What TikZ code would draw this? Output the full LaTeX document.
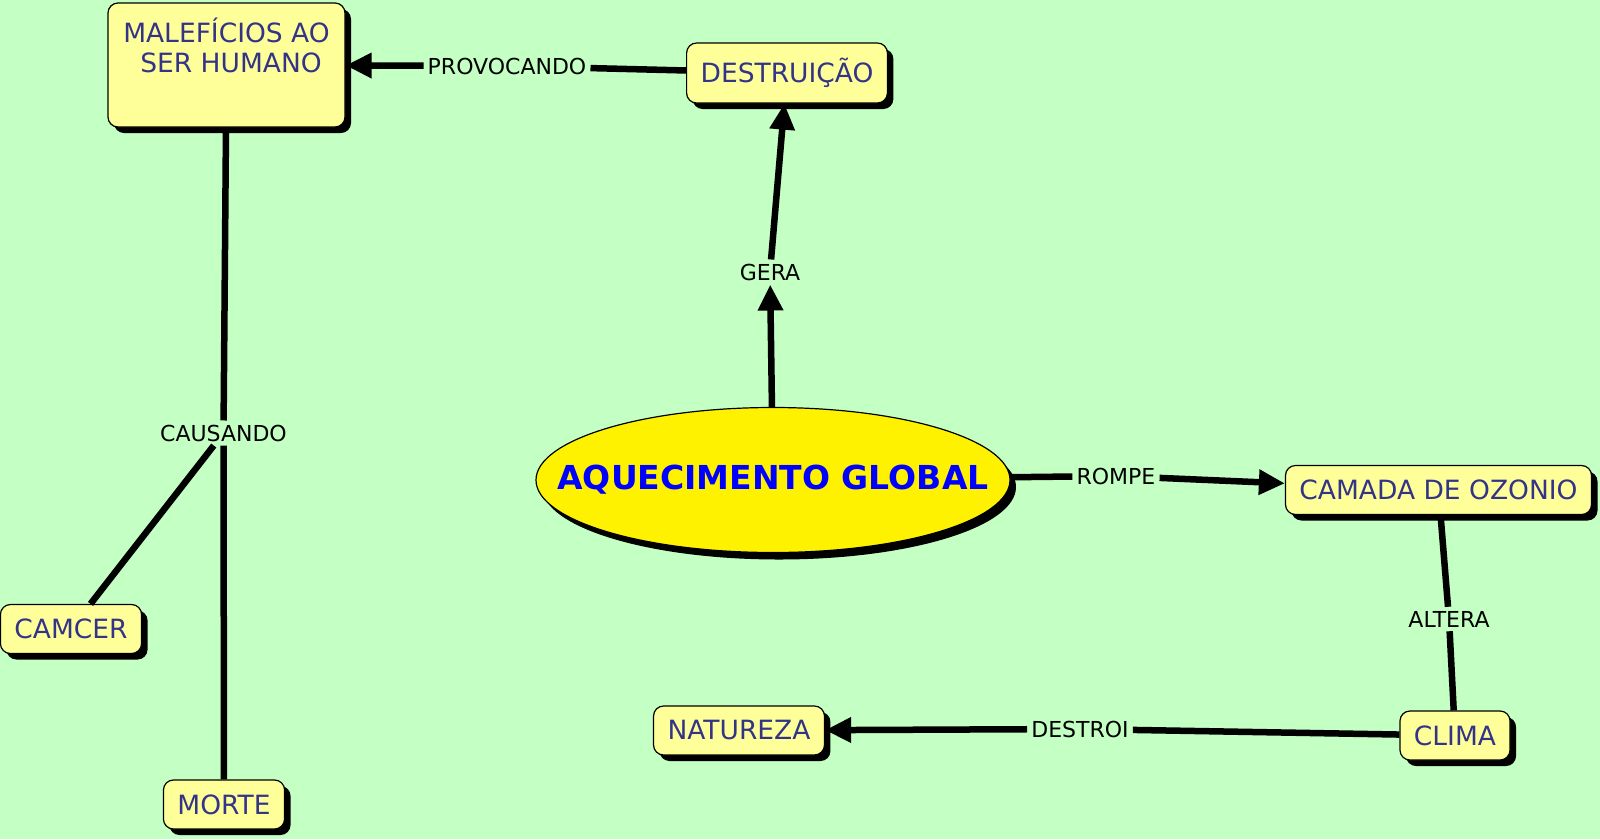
\documentclass[tikz,border=0pt]{standalone}
\usepackage{fontspec}
\setmainfont{DejaVu Sans}
\usetikzlibrary{shapes.geometric,shadows,arrows.meta}
\definecolor{mapbg}{RGB}{196,255,196}
\definecolor{conceptfill}{RGB}{255,255,153}
\definecolor{concepttext}{RGB}{51,51,136}

\begin{document}
\begin{tikzpicture}[x=1pt,y=-1pt]
	\tikzset{
	  concept/.style={draw=black,line width=1.2pt,fill=conceptfill,rounded corners=10pt,
		text=concepttext,font=\fontsize{26.5}{30}\selectfont,align=center,
		inner xsep=14pt,inner ysep=4pt,minimum height=49pt,
		drop shadow={shadow xshift=6pt,shadow yshift=-6pt,fill=black,opacity=1}},
	  topic/.style={ellipse,draw=black,line width=1.2pt,fill=yellow,text=blue,
		font=\bfseries\fontsize{33}{38}\selectfont,inner xsep=-80pt,inner ysep=0pt,
		minimum width=474pt,minimum height=145pt,
		drop shadow={shadow xshift=6pt,shadow yshift=-7pt,fill=black,opacity=1}},
	  linkword/.style={fill=mapbg,inner sep=4pt,font=\fontsize{22}{25}\selectfont},
	}
	\tikzset{
	  link/.style={line width=6.5pt},
	  linkarrow/.style={link,-{Triangle[length=26pt,width=24pt]}},
	}

	%BACKGROUND
	\fill[mapbg] (0,0) rectangle (1600,839);
	\useasboundingbox (0,0) rectangle (1600,839);

	%CONCEPTS
	\node[concept,minimum width=237pt,minimum height=124pt] (malef) at (226.5,65) {MALEFÍCIOS AO\\ \hspace*{9pt}SER HUMANO\\ \strut};
	\node[concept,minimum height=60pt] (destr) at (787,73) {DESTRUIÇÃO};
	\node[topic] (aquec) at (773,480) {AQUECIMENTO GLOBAL};
	\node[concept] (ozonio) at (1438.5,490) {CAMADA DE OZONIO};
	\node[concept] (clima) at (1455,735.5) {CLIMA};
	\node[concept] (natur) at (739,730.5) {NATUREZA};
	\node[concept] (camcer) at (71,629) {CAMCER};
	\node[concept] (morte) at (224,804.5) {MORTE};

	%LINKING WORDS
	\node[linkword] (provoc) at (507,66) {PROVOCANDO};
	\node[linkword] (gera) at (770,272) {GERA};
	\node[linkword] (causa) at (223.5,433) {CAUSANDO};
	\node[linkword] (rompe) at (1116,476) {ROMPE};
	\node[linkword] (altera) at (1449,619) {ALTERA};
	\node[linkword] (destroi) at (1080,729) {DESTROI};

	%CONNECTIONS
	\draw[link] (destr) -- (provoc);
	\draw[linkarrow] (provoc) -- (malef);
	\draw[linkarrow] (aquec) -- (gera);
	\draw[linkarrow] (gera) -- (destr);
	\draw[link] (malef) -- (causa);
	\draw[link] (causa) -- (camcer);
	\draw[link] (causa) -- (morte);
	\draw[link] (aquec) -- (rompe);
	\draw[linkarrow] (rompe) -- (ozonio);
	\draw[link] (ozonio) -- (altera);
	\draw[link] (altera) -- (clima);
	\draw[link] (clima) -- (destroi);
	\draw[linkarrow] (destroi) -- (natur);
\end{tikzpicture}
\end{document}
